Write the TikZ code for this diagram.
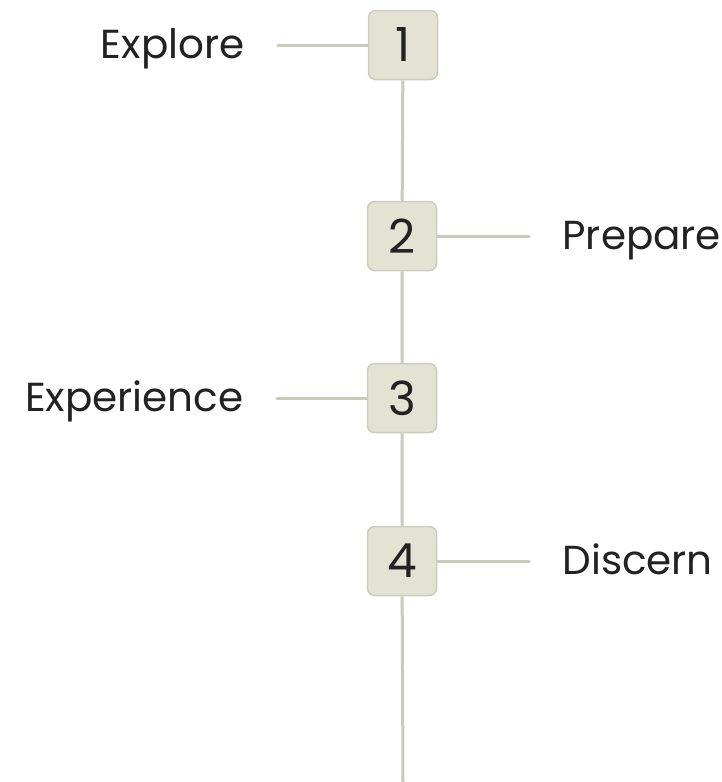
\documentclass[tikz,border=0pt]{standalone}
\usepackage{fontspec}
\setmainfont{Poppins}
\usetikzlibrary{positioning}
\definecolor{boxfill}{HTML}{E3E3D4}
\definecolor{boxline}{HTML}{CDCDBB}
\definecolor{railline}{HTML}{CBCBBA}
\definecolor{labeltext}{HTML}{222222}
\begin{document}
\begin{tikzpicture}[x=1pt,y=-1pt,
    stepbox/.style={draw=boxline,fill=boxfill,line width=1.5pt,rounded corners=7pt,minimum size=69pt,inner sep=0pt,font=\fontsize{47}{47}\selectfont,text=labeltext},
    steplabel/.style={font=\fontsize{40.5}{40.5}\selectfont,text=labeltext,inner sep=0pt,text height=27.5pt,text depth=0pt,node distance=123pt},
    rail/.style={draw=railline,line width=3pt}]
      \useasboundingbox (0,0) rectangle (721,782);
      \coordinate (RailEnd) at (403,782);
      \node[stepbox] (One)   at (403,45)  {1};
      \node[stepbox] (Two)   at (402,236) {2};
      \node[stepbox] (Three) at (402,398) {3};
      \node[stepbox] (Four)  at (402,561) {4};

      \node[steplabel,left=of One]    (Explore)    {Explore};
      \node[steplabel,right=of Two,xshift=2pt]   (Prepare)    {Prepare};
      \node[steplabel,left=of Three]  (Experience) {Experience};
      \node[steplabel,right=of Four,xshift=2pt]  (Discern)    {Discern};

      % rail behind the boxes, ticks out to the labels
      \path[rail] (One) -- (Two) (Two) -- (Three) (Three) -- (Four) (Four) -- (RailEnd);
      \foreach \stepnode/\steptext in {One/Explore,Two/Prepare,Three/Experience,Four/Discern}
        \path[rail,line cap=round,shorten >=33pt] (\stepnode) -- (\steptext);
\end{tikzpicture}
\end{document}
